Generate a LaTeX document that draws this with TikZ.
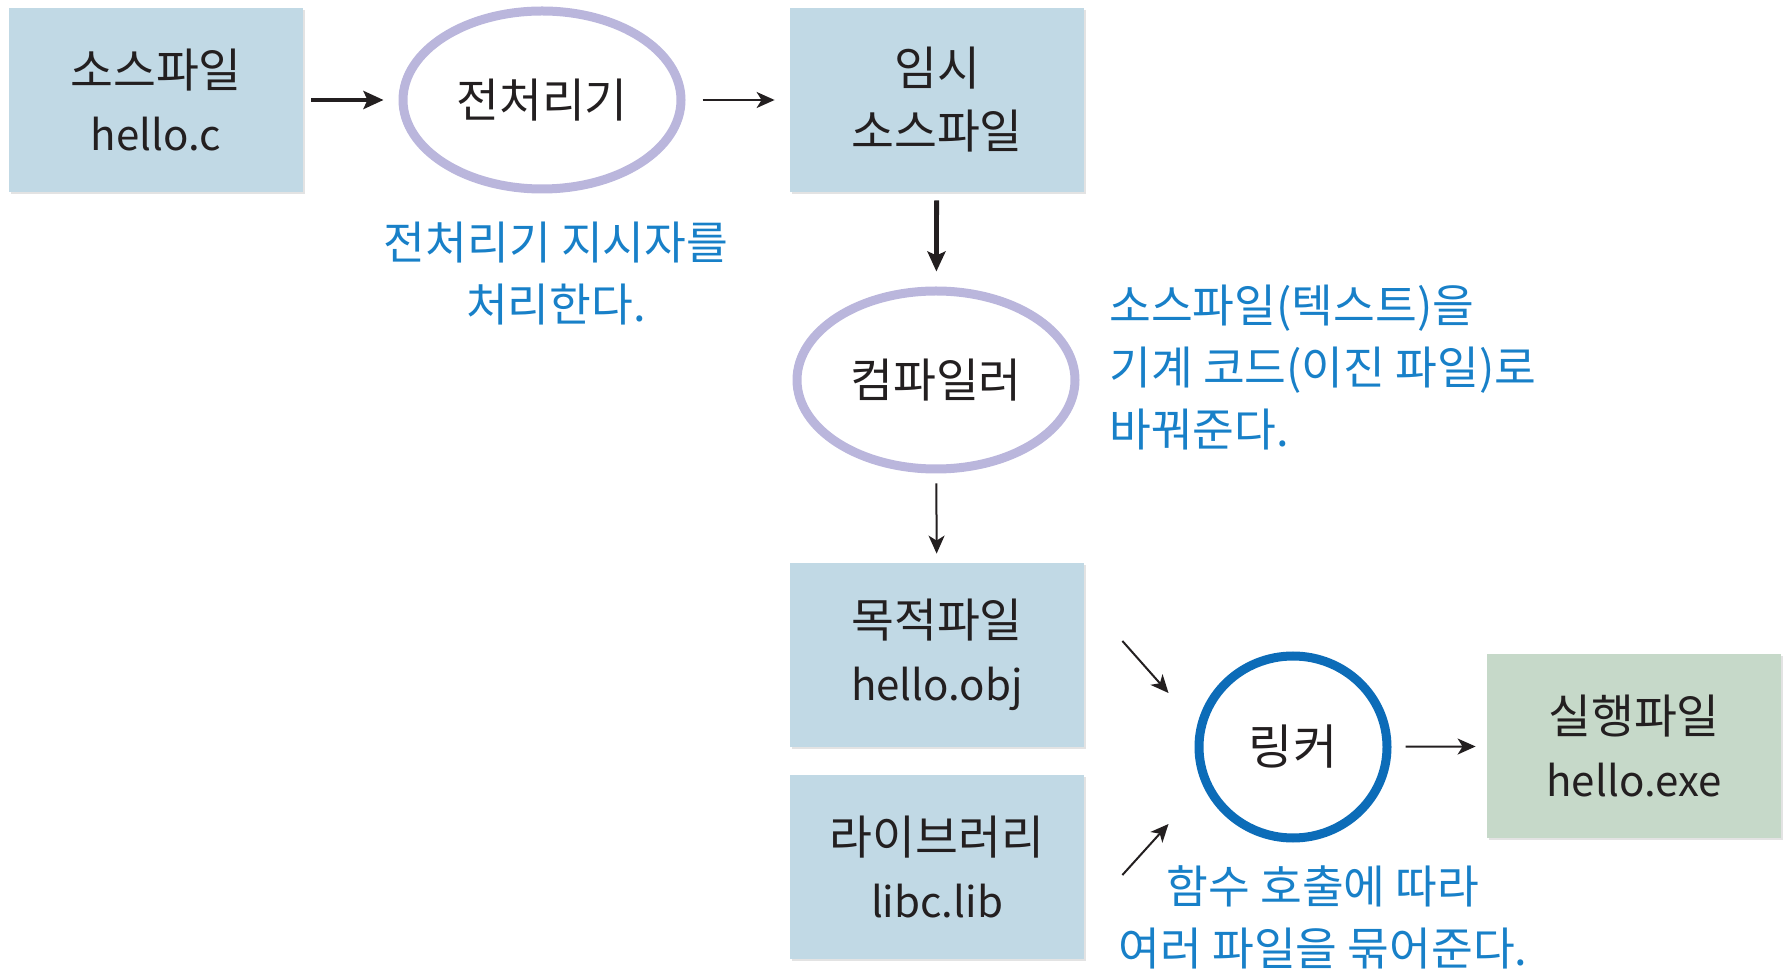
\documentclass[tikz,border=0pt]{standalone}
\usepackage{fontspec}
\setmainfont{Noto Sans CJK KR}
\usetikzlibrary{shapes.geometric,arrows.meta,calc,shadows}
\definecolor{boxblue}{RGB}{193,217,229}
\definecolor{boxgreen}{RGB}{198,217,201}
\definecolor{lav}{RGB}{186,182,220}
\definecolor{lnkblue}{RGB}{12,108,184}
\definecolor{txtblue}{RGB}{24,128,200}
\definecolor{ink}{RGB}{35,31,32}
\newcommand\latline{\fontsize{21}{31.5}\selectfont}
\begin{document}
\begin{tikzpicture}[x=0.5pt,y=-0.5pt,
  filebox/.style={rectangle, fill=boxblue, minimum width=147pt, minimum height=92pt,
    inner sep=0pt, align=center, font=\fontsize{23.3}{31.5}\selectfont, text=ink,
    drop shadow={shadow xshift=1.2pt, shadow yshift=-1.2pt, opacity=0.22}},
  procell/.style={ellipse, draw=lav, line width=4.5pt, fill=white, minimum width=139pt,
    minimum height=89pt, inner sep=0pt, font=\fontsize{23.3}{28}\selectfont, text=ink},
  linkcirc/.style={ellipse, draw=lnkblue, line width=4.5pt, fill=white, minimum width=94pt,
    minimum height=91pt, inner sep=0pt, font=\fontsize{24}{28}\selectfont, text=ink},
  note/.style={text=txtblue, font=\fontsize{22.7}{31}\selectfont, inner sep=0pt},
  thickarrow/.style={draw=ink, line width=2.4pt, -{Stealth[length=10pt,width=9pt,inset=2pt]}},
  thinarrow/.style={draw=ink, line width=1pt, -{Stealth[length=9pt,width=8pt,inset=2.5pt]}}
]
\useasboundingbox (0,0) rectangle (1789,972);

\node[filebox] (src) at (156,100) {소스파일\\\latline hello.c};
\node[procell] (pre) at (542,100) {전처리기};
\node[filebox] (tmp) at (937,100) {임시\\소스파일};
\node[note, align=center] (prenote) at (556,274) {전처리기 지시자를\\처리한다.};
\node[procell] (cmp) at (936,380) {컴파일러};
\node[note, align=left, anchor=west] (cmpnote) at (1109,368) {소스파일(텍스트)을\\기계 코드(이진 파일)로\\바꿔준다.};
\node[filebox] (obj) at (937,655) {목적파일\\\latline hello.obj};
\node[filebox] (lib) at (937,867) {라이브러리\\\latline libc.lib};
\node[linkcirc] (lnk) at (1293,747) {링커};
\node[filebox, fill=boxgreen] (exe) at (1634,746) {실행파일\\\latline hello.exe};
\node[note, align=center] (lnknote) at (1323,917) {함수 호출에 따라\\여러 파일을 묶어준다.};

\draw[thickarrow, shorten <=4pt, shorten >=7.5pt] (src) -- (pre);
\draw[thinarrow, shorten <=8.5pt, shorten >=7.5pt] (pre) -- (tmp);
\draw[thickarrow, shorten <=4pt, shorten >=7.5pt] (tmp) -- (cmp);
\draw[thinarrow, shorten <=5pt, shorten >=4.5pt] (cmp) -- (obj);
\coordinate (objout) at ($(obj.east)+(38,-14)$);
\coordinate (lnkin1) at ($(lnk.west)+(-26,-54)$);
\coordinate (libout) at ($(lib.east)+(38,8)$);
\coordinate (lnkin2) at ($(lnk.west)+(-26,77)$);
\draw[thinarrow] (objout) -- (lnkin1);
\draw[thinarrow] (libout) -- (lnkin2);
\draw[thinarrow, shorten <=7pt, shorten >=5.5pt] (lnk) -- (exe);
\end{tikzpicture}
\end{document}
